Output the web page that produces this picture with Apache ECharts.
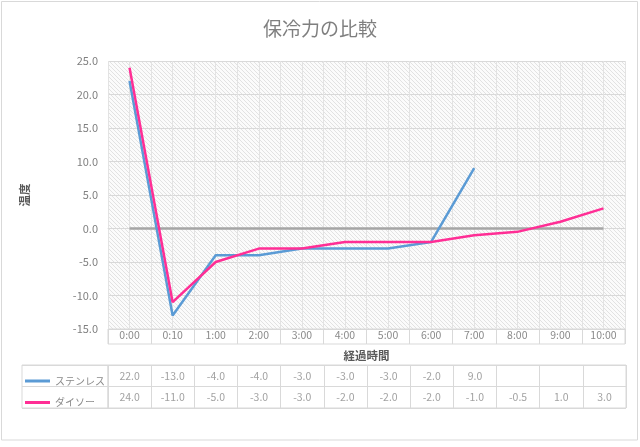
<!DOCTYPE html>
<html>
<head>
<meta charset="utf-8">
<script src="https://cdn.jsdelivr.net/npm/echarts@6/dist/echarts.min.js"></script>
<style>
html,body{margin:0;padding:0;background:#fff;}
#c{width:640px;height:447px;}
</style>
</head>
<body>
<div id="c"></div>
<script>
const categories = ['0:00','0:10','1:00','2:00','3:00','4:00','5:00','6:00','7:00','8:00','9:00','10:00'];
const seriesNames = ['ステンレス','ダイソー'];
const stainless = [22.0,-13.0,-4.0,-4.0,-3.0,-3.0,-3.0,-2.0,9.0,null,null,null];
const daiso = [24.0,-11.0,-5.0,-3.0,-3.0,-2.0,-2.0,-2.0,-1.0,-0.5,1.0,3.0];
const zeroLine = [0,0,0,0,0,0,0,0,0,0,0,0];
const yTicks = {min:-15, max:25, interval:5};
const titleText = '保冷力の比較';
const xName = '経過時間';
const yName = '温度';

const FONT = '"Noto Sans CJK JP", "Noto Sans", sans-serif';

// hatch pattern for plot background
const pc = document.createElement('canvas');
pc.width = 4; pc.height = 4;
const pctx = pc.getContext('2d');
pctx.fillStyle = '#fbfbfb';
pctx.fillRect(0,0,4,4);
pctx.strokeStyle = '#e2e2e2';
pctx.lineWidth = 1;
pctx.beginPath();
pctx.moveTo(-1,-1); pctx.lineTo(5,5);
pctx.stroke();

const half = [];
for (let i = 0; i < categories.length * 2; i++) half.push(String(i));

const tableData = [stainless, daiso];
const tableSeries = tableData.map((arr, r) => ({
  name: 'tbl' + r,
  type: 'scatter',
  xAxisIndex: 3, yAxisIndex: 2,
  symbolSize: 1,
  itemStyle: {color: 'rgba(0,0,0,0)'},
  silent: true,
  label: {
    show: true, position: 'inside',
    color: '#8a8a8a', fontSize: 10.5, fontFamily: FONT,
    formatter: p => p.value[2].toFixed(1)
  },
  data: arr.map((v, i) => v == null ? null : [i, r, v]).filter(d => d)
}));

const chart = echarts.init(document.getElementById('c'), null, {renderer: 'canvas'});
chart.setOption({
  animation: false,
  backgroundColor: '#fff',
  textStyle: {fontFamily: FONT},
  title: {
    text: titleText, left: 'center', top: 14,
    textStyle: {color: '#7f7f7f', fontSize: 19, fontWeight: 'normal', fontFamily: FONT}
  },
  legend: {
    data: seriesNames,
    orient: 'vertical',
    left: 20, top: 369,
    itemGap: 7.5,
    icon: 'rect', itemWidth: 25, itemHeight: 3,
    textStyle: {color: '#8a8a8a', fontSize: 10, lineHeight: 14, fontFamily: FONT},
    selectedMode: false
  },
  grid: [
    {left: 108, top: 61, width: 517, height: 268, show: true, backgroundColor: {image: pc, repeat: 'repeat'}, borderWidth: 0, outerBoundsMode: 'none'},
    {left: 108, top: 329, width: 517, height: 15, show: true, borderColor: '#d9d9d9', borderWidth: 1, outerBoundsMode: 'none'},
    {left: 108, top: 365, width: 518, height: 43, show: true, borderColor: '#d9d9d9', borderWidth: 1, outerBoundsMode: 'none'},
    {left: 22, top: 365, width: 86, height: 43, show: true, borderColor: '#d9d9d9', borderWidth: 1, outerBoundsMode: 'none'}
  ],
  xAxis: [
    {gridIndex: 0, type: 'category', data: categories, boundaryGap: true,
     axisLabel: {show: false}, axisTick: {show: false},
     axisLine: {show: true, lineStyle: {color: '#d9d9d9'}}, splitLine: {show: false}},
    {gridIndex: 0, type: 'category', data: half, boundaryGap: true, show: true,
     axisLabel: {show: false, interval: 0}, axisTick: {show: false, interval: 0}, axisLine: {show: false},
     splitLine: {show: true, interval: 0, lineStyle: {color: '#e3e3e3', width: 1}}},
    {gridIndex: 1, type: 'category', data: categories, boundaryGap: true,
     axisLine: {show: false}, axisTick: {show: false},
     axisLabel: {show: true, interval: 0, margin: -14, color: '#8a8a8a', fontSize: 10.5, fontFamily: FONT},
     splitLine: {show: true, interval: 0, lineStyle: {color: '#d9d9d9'}},
     name: xName, nameLocation: 'middle', nameGap: 6,
     nameTextStyle: {color: '#595959', fontSize: 11.5, fontWeight: 'bold', fontFamily: FONT}},
    {gridIndex: 2, type: 'category', data: categories, boundaryGap: true,
     axisLine: {show: false}, axisTick: {show: false}, axisLabel: {show: false},
     splitLine: {show: true, interval: 0, lineStyle: {color: '#d9d9d9'}}},
    {gridIndex: 3, type: 'value', show: false}
  ],
  yAxis: [
    {gridIndex: 0, type: 'value', min: yTicks.min, max: yTicks.max, interval: yTicks.interval,
     axisLine: {show: false}, axisTick: {show: false},
     axisLabel: {color: '#808080', fontSize: 11, margin: 10, formatter: v => v.toFixed(1), fontFamily: FONT},
     splitLine: {show: true, lineStyle: {color: '#d9d9d9', width: 1}},
     name: yName, nameLocation: 'middle', nameRotate: 90, nameGap: 78,
     nameTextStyle: {color: '#595959', fontSize: 11.5, fontWeight: 'bold', fontFamily: FONT}},
    {gridIndex: 1, type: 'value', show: false},
    {gridIndex: 2, type: 'category', data: [0, 1], inverse: true, boundaryGap: true,
     axisLine: {show: false}, axisTick: {show: false}, axisLabel: {show: false},
     splitLine: {show: true, interval: 0, lineStyle: {color: '#d9d9d9'}}},
    {gridIndex: 3, type: 'category', data: [0, 1], inverse: true, boundaryGap: true,
     axisLine: {show: false}, axisTick: {show: false}, axisLabel: {show: false},
     splitLine: {show: true, interval: 0, lineStyle: {color: '#d9d9d9'}}}
  ],
  series: [
    {name: 'zero', type: 'line', data: zeroLine, symbol: 'none', silent: true,
     color: '#a5a5a5', lineStyle: {color: '#a5a5a5', width: 2.5}, z: 2},
    {name: seriesNames[0], type: 'line', data: stainless, symbol: 'none',
     color: '#5b9bd5', lineStyle: {color: '#5b9bd5', width: 2.5}, z: 3},
    {name: seriesNames[1], type: 'line', data: daiso, symbol: 'none',
     color: '#ff2e95', lineStyle: {color: '#ff2e95', width: 2.5}, z: 4},
    ...tableSeries
  ],
  graphic: [
    {type: 'rect', shape: {x: 1.5, y: 1.5, width: 636, height: 438.5},
     style: {fill: null, stroke: '#d9d9d9', lineWidth: 1}, silent: true, z: 100}
  ]
});
</script>
</body>
</html>
